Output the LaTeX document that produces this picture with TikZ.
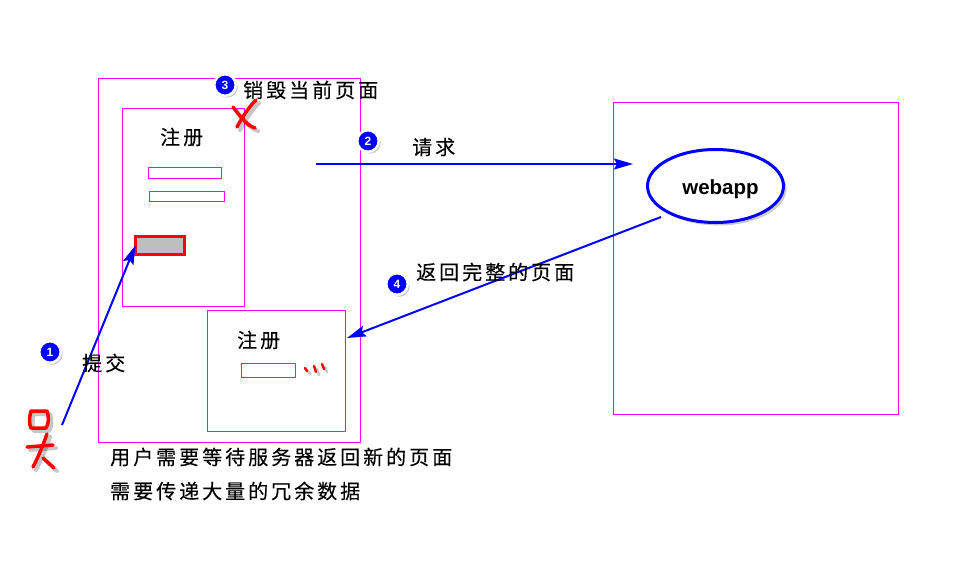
\documentclass[tikz,border=0pt]{standalone}
\usepackage{fontspec}
\usetikzlibrary{arrows.meta,shapes.geometric,shadows}
\newfontfamily\cjkfont[LetterSpace=15,FakeBold=0.25]{Noto Sans CJK SC}
\newfontfamily\latinfont{Liberation Sans}
\definecolor{pageedge}{HTML}{FF00FF}
\definecolor{flowblue}{HTML}{0000FF}
\definecolor{inkred}{HTML}{FF0000}
\definecolor{buttongray}{HTML}{BEBEBE}

\begin{document}
\begin{tikzpicture}[
  x=1pt,
  y=-1pt,
  box/.style={draw=pageedge,line width=1pt,rectangle,inner sep=0pt,outer sep=0pt},
  submitbutton/.style={draw=inkred,fill=buttongray,line width=3pt,rectangle,inner sep=0pt,outer sep=0pt},
  flow/.style={draw=flowblue,line width=2pt,-{Stealth[length=19pt,width=11pt,inset=3pt]}},
  badge/.style={circle,fill=flowblue,draw=white,line width=2.5pt,minimum size=21.5pt,inner sep=0pt,
    text=white,font=\latinfont\bfseries\fontsize{12}{12}\selectfont,
    drop shadow={shadow xshift=2pt,shadow yshift=-2pt,opacity=.4}},
  label/.style={anchor=west,inner sep=0pt,font=\cjkfont\fontsize{20}{20}\selectfont},
  server/.style={ellipse,draw=flowblue,fill=white,line width=3pt,inner sep=0pt,outer sep=0pt,
    minimum width=136pt,minimum height=73pt,
    drop shadow={shadow xshift=3pt,shadow yshift=-3pt,opacity=.4}},
  inkline/.style={draw=inkred,line width=3.5pt,line cap=round,line join=round},
  inkshadow/.style={draw=black,opacity=.22,line width=4pt,line cap=round,line join=round,shift={(3,3)}}
]
  % Keep the frame of the original screenshot.
  \useasboundingbox (0,0) rectangle (980,565);

  % Browser window, pages and the server box.
  \node[box,minimum width=262pt,minimum height=364pt] (browser) at (229,260) {};
  \node[box,minimum width=122pt,minimum height=198pt] (formPage) at (183,207) {};
  \node[box,minimum width=73pt,minimum height=11pt] (nameField) at (184.5,172.5) {};
  \node[box,minimum width=75pt,minimum height=10pt] (passField) at (186.5,196) {};
  \node[submitbutton,minimum width=49pt,minimum height=18pt] (submit) at (160,245.3) {};
  \node[box,minimum width=138pt,minimum height=121pt] (newPage) at (276,370.5) {};
  \node[box,minimum width=54pt,minimum height=14pt] (newField) at (268,370) {};
  \node[box,minimum width=285pt,minimum height=312pt] (serverBox) at (755.5,258) {};
  \node[server] (webapp) at (715.5,186) {};
  \node[font=\latinfont\bfseries\fontsize{20.5}{20.5}\selectfont] (webappText) at (720.5,189) {webapp};

  % Free ends of the arrows.
  \coordinate (userHand) at (62,425);
  \coordinate (requestStart) at (316,164);
  \coordinate (requestEnd) at (633,164);
  \coordinate (replyStart) at (661,217);
  \coordinate (replyEnd) at (347,338);

  \draw[flow] (userHand) -- (submit.west);
  \draw[flow] (requestStart) -- (requestEnd);
  \draw[flow] (replyStart) -- (replyEnd);

  % Hand-drawn red marks, the shadow first.
  \foreach \inkstyle in {inkshadow,inkline} {
    \draw[\inkstyle] (31,411) .. controls (29,418) and (29,424) .. (31,428) -- (46,428) .. controls (49,424) and (49,416) .. (47,411) -- cycle;
    \draw[\inkstyle] (47,434) .. controls (43,445) and (38,458) .. (33,467);
    \draw[\inkstyle] (27,447) -- (53,445);
    \draw[\inkstyle] (43,458) -- (54,468);
    \draw[\inkstyle] (233,107) .. controls (240,116) and (246,125) .. (255,128);
    \draw[\inkstyle] (256,100) .. controls (248,108) and (242,118) .. (237,127);
    \draw[\inkstyle,line width=2.5pt] (305,368) -- (307,371);
    \draw[\inkstyle,line width=2.5pt] (314,366) -- (316,372);
    \draw[\inkstyle,line width=2.5pt] (322,364) -- (324,369);
  }

  % Numbered steps.
  \node[badge] (stepOne) at (50,352) {1};
  \node[badge] (stepTwo) at (368,141) {2};
  \node[badge] (stepThree) at (225,85) {3};
  \node[badge] (stepFour) at (397,284) {4};

  % Texts.
  \node[label] (formTitle) at (160,137) {注册};
  \node[label] (newTitle) at (237,340) {注册};
  \node[label] (submitText) at (82,363) {提交};
  \node[label] (destroyText) at (243,90) {销毁当前页面};
  \node[label] (requestText) at (412,147) {请求};
  \node[label] (replyText) at (416,272) {返回完整的页面};
  \node[label] (waitText) at (110,457) {用户需要等待服务器返回新的页面};
  \node[label] (dataText) at (110,491) {需要传递大量的冗余数据};
\end{tikzpicture}
\end{document}
